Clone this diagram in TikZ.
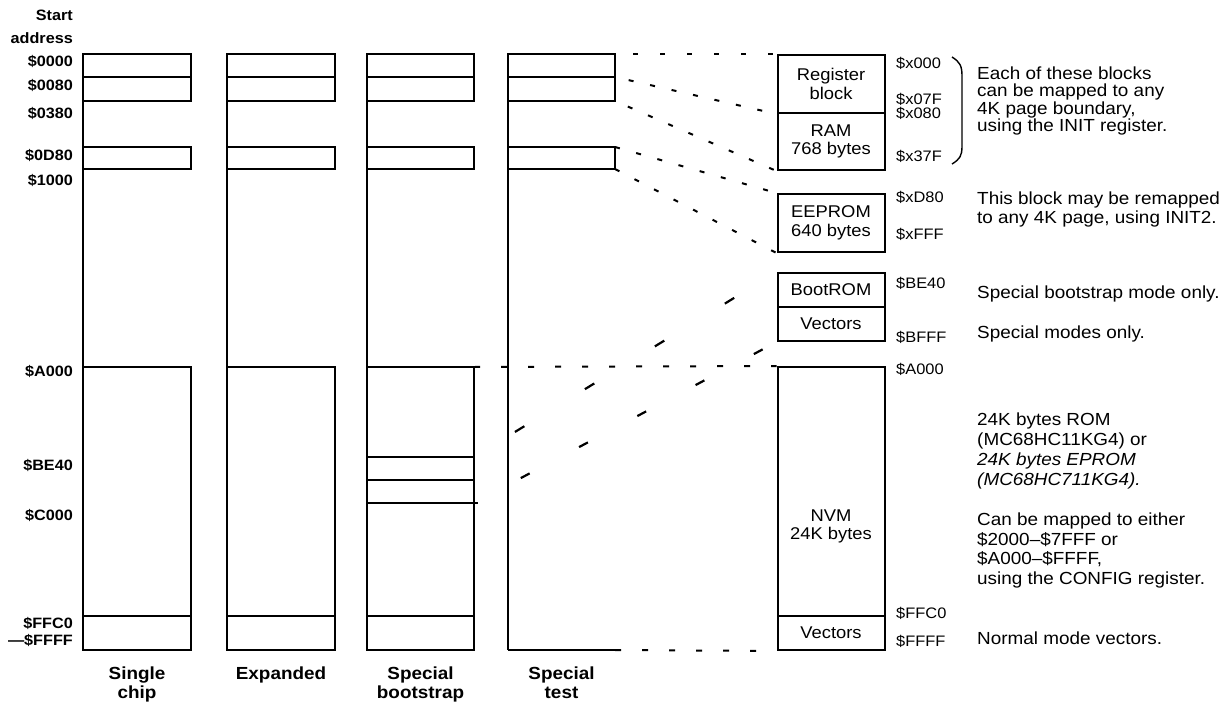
\documentclass[tikz,border=0pt]{standalone}
\usepackage{fontspec}
\setmainfont{Liberation Sans}[FakeStretch=1.08]
\begin{document}
\begin{tikzpicture}[x=1pt,y=-1pt,
  col/.style={line width=2.5pt},
  blk/.style={draw,line width=2pt,minimum width=107pt,inner sep=0pt,align=center,font=\fontsize{17}{18.5}\selectfont},
  finedash/.style={line width=2pt,dash pattern=on 5pt off 17pt},
  longdash/.style={line width=2.2pt},
  laddr/.style={anchor=base east,inner sep=0pt,font=\bfseries\fontsize{15}{16}\selectfont},
  raddr/.style={anchor=base west,inner sep=0pt,font=\fontsize{15.2}{16}\selectfont},
  desc/.style={anchor=north west,inner sep=0pt,align=left},
  clab/.style={anchor=north,inner sep=0pt,align=center,font=\bfseries\fontsize{17.5}{19.5}\selectfont}]
\useasboundingbox (0,0) rectangle (1228,706);

% ---------- memory map columns ----------
\foreach \xl/\xr in {83/191,227/335,367/474,508/615} {
  \draw[col] (\xl,54) rectangle (\xr,101);
  \draw[col] (\xl,77) -- (\xr,77);
  \draw[col] (\xl,147) rectangle (\xr,169);
  \draw[col] (\xl,101) -- (\xl,147) (\xl,169) -- (\xl,650);
}
\foreach \xl/\xr in {83/191,227/335,367/474} {
  \draw[col] (\xl,367) rectangle (\xr,650);
  \draw[col] (\xl,616) -- (\xr,616);
}
\draw[col] (367,457) -- (474,457) (367,480) -- (474,480) (367,503) -- (478,503);
\draw[col] (508,650) -- (615,650);

% ---------- left addresses ----------
\node[laddr] (ls1) at (73,20.5) {Start};
\node[laddr] (ls2) at (73,43.5) {address};
\node[laddr] (l0000) at (73,66.5) {\$0000};
\node[laddr] (l0080) at (73,90.5) {\$0080};
\node[laddr] (l0380) at (73,118.5) {\$0380};
\node[laddr] (l0d80) at (73,160.5) {\$0D80};
\node[laddr] (l1000) at (73,185.5) {\$1000};
\node[laddr] (la000) at (73,376.5) {\$A000};
\node[laddr] (lbe40) at (73,470.5) {\$BE40};
\node[laddr] (lc000) at (73,520.5) {\$C000};
\node[laddr] (lffc0) at (73,628) {\$FFC0};
\node[laddr] (lffff) at (73,645) {—\$FFFF};

% ---------- column labels ----------
\node[clab] (cl1) at (137,666.5) {Single\\chip};
\node[clab] (cl2) at (281,666.5) {Expanded};
\node[clab] (cl3) at (420.5,666.5) {Special\\bootstrap};
\node[clab] (cl4) at (561.5,666.5) {Special\\test};

% ---------- right blocks ----------
\node[blk,minimum height=58pt] (reg) at (831,84) {Register\\block};
\node[blk,minimum height=57pt] (ram) at (831,141.5) {RAM\\768 bytes};
\node[blk,minimum height=58pt] (eep) at (831,223) {EEPROM\\640 bytes};
\node[blk,minimum height=34pt] (boot) at (831,290) {BootROM};
\node[blk,minimum height=34pt] (vecs) at (831,324) {Vectors};
\node[blk,minimum height=283pt] (nvm) at (831,508.5) {};
\node[blk,minimum height=34pt] (vecn) at (831,633) {Vectors};
\node[font=\fontsize{17}{18}\selectfont,align=center,inner sep=0pt] (nvmt) at (831,526) {NVM\\24K bytes};

% ---------- connectors ----------
\coordinate (t0) at (615,54);
\coordinate (t1) at (615,77);
\coordinate (t2) at (615,101);
\coordinate (t3) at (615,147);
\coordinate (t4) at (615,169);
\coordinate (tb) at (615,650);
\coordinate (ba) at (474,367);
\coordinate (bb) at (474,457);
\coordinate (bc) at (474,503);
\draw[finedash,dash pattern=on 5pt off 22pt,dash phase=9pt] (t0) -- (reg.north west);
\draw[finedash,dash phase=8pt] (t1) -- (reg.south west);
\draw[finedash,dash phase=8pt] (t2) -- (ram.south west);
\draw[finedash] (t3) -- (eep.north west);
\draw[finedash] (t4) -- (eep.south west);
\draw[finedash,dash pattern=on 6pt off 21pt] (ba) -- (nvm.north west);
\draw[finedash,dash pattern=on 6pt off 21pt] (tb) -- (nvm.south west);
\draw[longdash,dash pattern=on 11pt off 71pt,dash phase=34pt] (bb) -- (boot.north west);
\draw[longdash,dash pattern=on 10pt off 56pt,dash phase=13pt] (bc) -- (vecs.south west);

% ---------- right addresses ----------
\node[raddr] (rx000) at (896,68.5) {\$x000};
\node[raddr] (rx07f) at (896,104.5) {\$x07F};
\node[raddr] (rx080) at (896,118.5) {\$x080};
\node[raddr] (rx37f) at (896,161.5) {\$x37F};
\node[raddr] (rxd80) at (896,202.5) {\$xD80};
\node[raddr] (rxfff) at (896,239.5) {\$xFFF};
\node[raddr] (rbe40) at (896,288.5) {\$BE40};
\node[raddr] (rbfff) at (896,342.5) {\$BFFF};
\node[raddr] (ra000) at (896,374.5) {\$A000};
\node[raddr] (rffc0) at (896,618.5) {\$FFC0};
\node[raddr] (rffff) at (896,646.5) {\$FFFF};

% ---------- brace ----------
\draw[line width=1.4pt] (952,57) .. controls (960,62) and (962,66) .. (962,76) -- (962,146) .. controls (962,156) and (960,159) .. (952,164);

% ---------- descriptions ----------
\node[desc,font=\fontsize{17.5}{17.5}\selectfont] (d1) at (977,66.5) {Each of these blocks\\can be mapped to any\\4K page boundary,\\using the INIT register.};
\node[desc,font=\fontsize{17.5}{19}\selectfont] (d2) at (977,191.5) {This block may be remapped\\to any 4K page, using INIT2.};
\node[desc,font=\fontsize{17.5}{19}\selectfont] (d3) at (977,285.5) {Special bootstrap mode only.};
\node[desc,font=\fontsize{17.5}{19}\selectfont] (d4) at (977,325.5) {Special modes only.};
\node[desc,font=\fontsize{17.5}{20}\selectfont] (d5) at (977,412.5) {24K bytes ROM\\(MC68HC11KG4) or\\\textit{24K bytes EPROM}\\\textit{(MC68HC711KG4).}};
\node[desc,font=\fontsize{17.5}{19.7}\selectfont] (d6) at (977,512.5) {Can be mapped to either\\\$2000–\$7FFF or\\\$A000–\$FFFF,\\using the CONFIG register.};
\node[desc,font=\fontsize{17.5}{19}\selectfont] (d7) at (977,631.5) {Normal mode vectors.};
\end{tikzpicture}
\end{document}
